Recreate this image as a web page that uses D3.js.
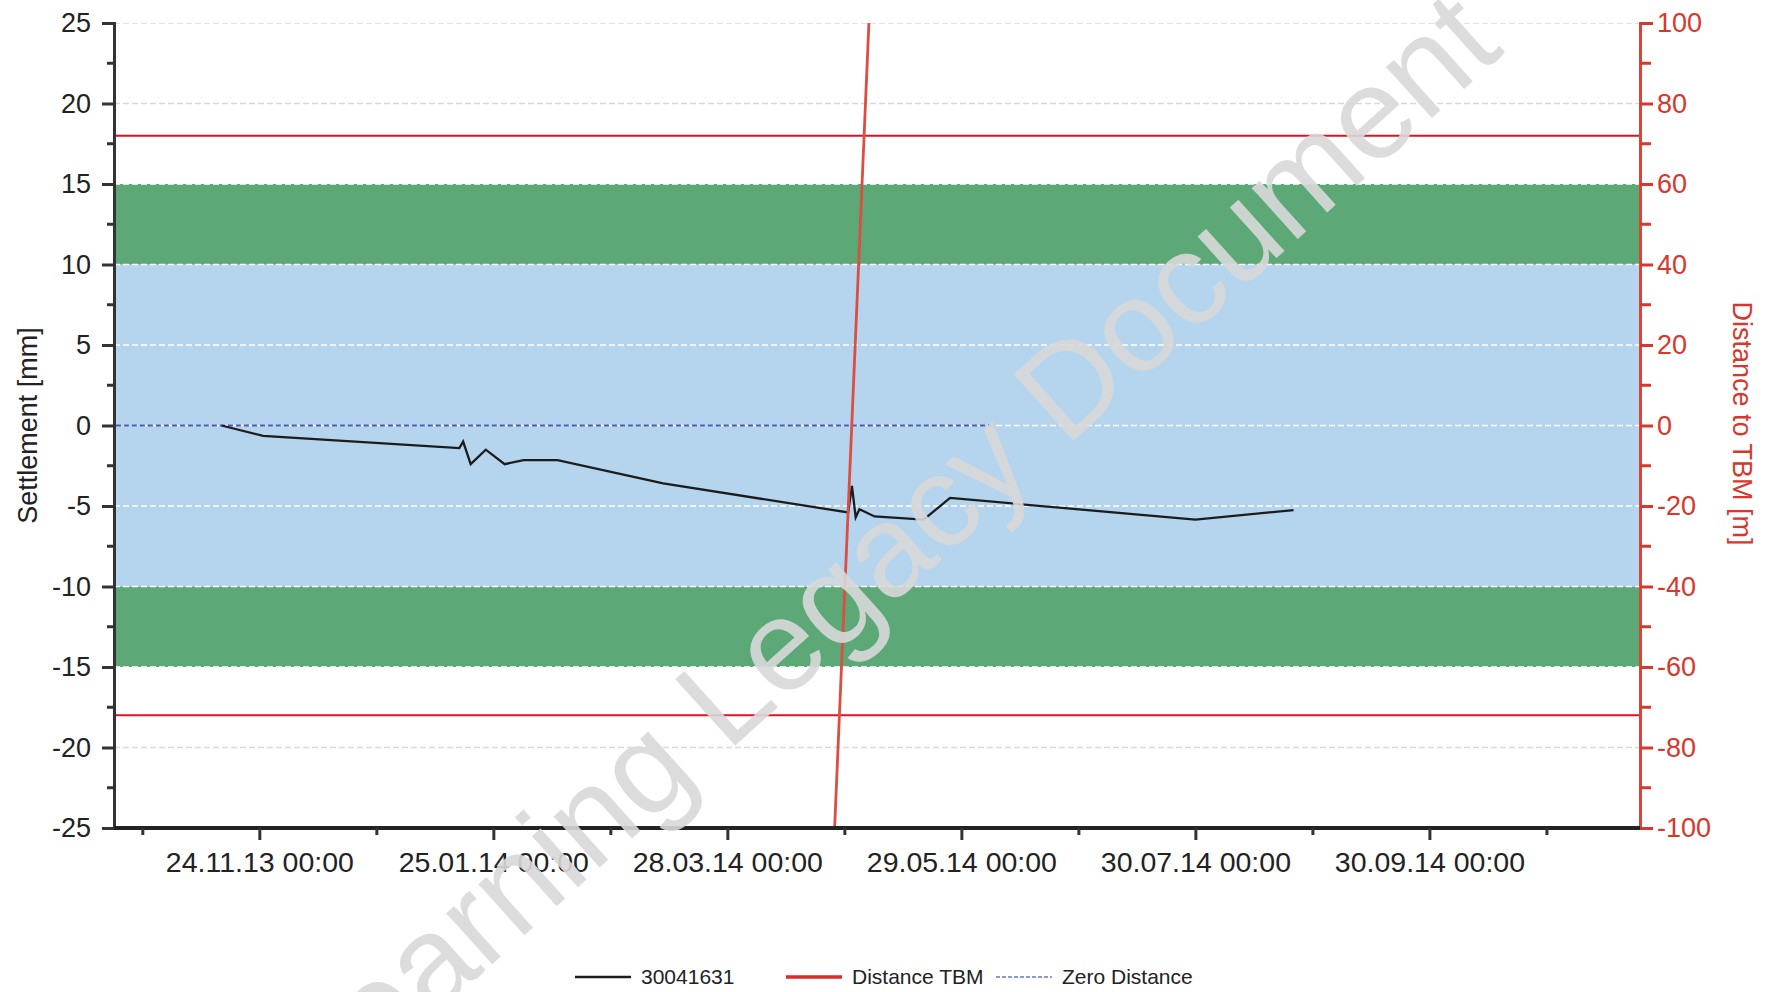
<!DOCTYPE html>
<html>
<head>
<meta charset="utf-8">
<script src="https://cdn.jsdelivr.net/npm/d3@7"></script>
<style>
  body { margin: 0; background: #fff; }
  svg { display: block; font-family: "Liberation Sans", Arial, sans-serif; }
</style>
</head>
<body>
<div id="chart"></div>
<script>
// settlement point 30041631 (mm)
var seriesName = '30041631';
var measureDates = ['2013-11-14', '2013-11-25', '2014-01-16', '2014-01-17', '2014-01-19', '2014-01-23',
  '2014-01-28', '2014-02-02', '2014-02-11', '2014-03-11', '2014-04-29', '2014-04-30', '2014-05-01',
  '2014-05-02', '2014-05-06', '2014-05-19', '2014-05-26', '2014-07-30', '2014-08-25'];
var settlement = [0, -0.65, -1.4, -1.0, -2.4, -1.5, -2.4, -2.15, -2.15, -3.6, -5.4, -3.75, -5.7,
  -5.2, -5.65, -5.85, -4.5, -5.85, -5.25];

// distance to TBM (m), right axis
var tbmDates = ['2014-04-25T10:00', '2014-05-04T12:00'];
var tbmDistance = [-100, 100];

// zero distance reference
var zeroDates = ['2013-10-17', '2014-06-07'];
var zeroValues = [0, 0];

// bands and limit lines (mm)
var blueBand = [-10, 10];
var greenBands = [[10, 15], [-15, -10]];
var limitLines = [18, -18];

// axes
var xDomain = ['2013-10-16T12:00', '2014-11-24T19:00'];
var xTickDates = ['2013-10-24', '2013-11-24', '2013-12-25', '2014-01-25', '2014-02-25', '2014-03-28',
  '2014-04-28', '2014-05-29', '2014-06-29', '2014-07-30', '2014-08-30', '2014-09-30', '2014-10-31'];
var xTickLabels = ['', '24.11.13 00:00', '', '25.01.14 00:00', '', '28.03.14 00:00',
  '', '29.05.14 00:00', '', '30.07.14 00:00', '', '30.09.14 00:00', ''];
var leftTicks = [-25, -20, -15, -10, -5, 0, 5, 10, 15, 20, 25];
var leftMinor = [-22.5, -17.5, -12.5, -7.5, -2.5, 2.5, 7.5, 12.5, 17.5, 22.5];
var rightTicks = [-100, -80, -60, -40, -20, 0, 20, 40, 60, 80, 100];
var rightMinor = [-90, -70, -50, -30, -10, 10, 30, 50, 70, 90];

var parse = function (s) {
  return s.length > 10 ? d3.timeParse('%Y-%m-%dT%H:%M')(s) : d3.timeParse('%Y-%m-%d')(s);
};

var W = 1769, H = 992;
var plot = { left: 114, right: 1640, top: 23, bottom: 828 };

var svg = d3.select('#chart').append('svg')
  .attr('width', W)
  .attr('height', H);

var x = d3.scaleTime()
  .domain(xDomain.map(parse))
  .range([plot.left, plot.right]);
var y = d3.scaleLinear()
  .domain([-25, 25])
  .range([plot.bottom, plot.top]);
var y2 = d3.scaleLinear()
  .domain([-100, 100])
  .range([plot.bottom, plot.top]);

svg.append('clipPath').attr('id', 'clip')
  .append('rect')
  .attr('x', plot.left).attr('y', plot.top)
  .attr('width', plot.right - plot.left).attr('height', plot.bottom - plot.top);

var g = svg.append('g').attr('clip-path', 'url(#clip)');

// bands
g.append('rect')
  .attr('x', plot.left)
  .attr('width', plot.right - plot.left)
  .attr('y', y(blueBand[1]))
  .attr('height', y(blueBand[0]) - y(blueBand[1]))
  .attr('fill', '#b5d4ee');

g.selectAll('.green')
  .data(greenBands)
  .enter().append('rect')
  .attr('x', plot.left)
  .attr('width', plot.right - plot.left)
  .attr('y', d => y(d[1]))
  .attr('height', d => y(d[0]) - y(d[1]))
  .attr('fill', '#5ca977');

// dashed grid
g.selectAll('.grid')
  .data(leftTicks)
  .enter().append('line')
  .attr('x1', plot.left).attr('x2', plot.right)
  .attr('y1', d => y(d)).attr('y2', d => y(d))
  .attr('stroke', d => Math.abs(d) <= 15 ? '#ffffff' : '#d9d9d9')
  .attr('stroke-width', 1.5)
  .attr('stroke-dasharray', '6,3');

// limit lines
g.selectAll('.limit')
  .data(limitLines)
  .enter().append('line')
  .attr('x1', plot.left).attr('x2', plot.right)
  .attr('y1', d => y(d)).attr('y2', d => y(d))
  .attr('stroke', '#e4101f')
  .attr('stroke-width', 2);

// zero distance
var zeroData = zeroDates.map((d, i) => ({ date: parse(d), value: zeroValues[i] }));
g.append('path')
  .datum(zeroData)
  .attr('fill', 'none')
  .attr('stroke', '#4c5cae')
  .attr('stroke-width', 1.8)
  .attr('stroke-dasharray', '5,3')
  .attr('d', d3.line().x(d => x(d.date)).y(d => y(d.value)));

// settlement line
var setData = measureDates.map((d, i) => ({ date: parse(d), value: settlement[i] }));
g.append('path')
  .datum(setData)
  .attr('fill', 'none')
  .attr('stroke', '#1c1c1c')
  .attr('stroke-width', 2.3)
  .attr('d', d3.line().x(d => x(d.date)).y(d => y(d.value)));

// distance TBM
var tbmData = tbmDates.map((d, i) => ({ date: parse(d), value: tbmDistance[i] }));
g.append('path')
  .datum(tbmData)
  .attr('fill', 'none')
  .attr('stroke', '#db4f43')
  .attr('stroke-width', 2.8)
  .attr('d', d3.line().x(d => x(d.date)).y(d => y2(d.value)));

// left axis
var leftAxis = svg.append('g')
  .attr('transform', `translate(${plot.left}, 0)`)
  .call(d3.axisLeft(y).tickValues(leftTicks).tickSize(12).tickPadding(11).tickFormat(d => d));
leftAxis.selectAll('.tick line').attr('stroke', '#333').attr('stroke-width', 3);
leftAxis.select('.domain').attr('stroke', '#333').attr('stroke-width', 3);
leftAxis.selectAll('text').attr('font-size', 27).attr('fill', '#222')
  .attr('font-family', '"Liberation Sans", Arial, sans-serif');
svg.append('g').attr('transform', `translate(${plot.left}, 0)`)
  .selectAll('line').data(leftMinor).enter().append('line')
  .attr('x1', -7).attr('x2', 0)
  .attr('y1', d => y(d)).attr('y2', d => y(d))
  .attr('stroke', '#333').attr('stroke-width', 3);

// right axis
var rightAxis = svg.append('g')
  .attr('transform', `translate(${plot.right}, 0)`)
  .call(d3.axisRight(y2).tickValues(rightTicks).tickSize(13).tickPadding(4).tickFormat(d => d));
rightAxis.selectAll('.tick line').attr('stroke', '#d8372c').attr('stroke-width', 3);
rightAxis.select('.domain').attr('stroke', '#d8463a').attr('stroke-width', 3);
rightAxis.selectAll('text').attr('font-size', 27).attr('fill', '#d8372c')
  .attr('font-family', '"Liberation Sans", Arial, sans-serif');
svg.append('g').attr('transform', `translate(${plot.right}, 0)`)
  .selectAll('line').data(rightMinor).enter().append('line')
  .attr('x1', 0).attr('x2', 11)
  .attr('y1', d => y2(d)).attr('y2', d => y2(d))
  .attr('stroke', '#d8372c').attr('stroke-width', 3);

// bottom axis
var bottomAxis = svg.append('g')
  .attr('transform', `translate(0, ${plot.bottom})`)
  .call(d3.axisBottom(x).tickValues(xTickDates.map(parse)).tickSizeOuter(0).tickSizeInner(11)
    .tickPadding(13).tickFormat((d, i) => xTickLabels[i]));
bottomAxis.select('.domain').attr('stroke', '#222').attr('stroke-width', 4)
  .attr('d', `M${plot.left},0H${plot.right}`);
bottomAxis.selectAll('.tick line')
  .attr('stroke', '#333').attr('stroke-width', 3)
  .attr('y2', (d, i) => xTickLabels[i] ? 12 : 7);
bottomAxis.selectAll('text').attr('font-size', 28.5).attr('fill', '#222')
  .attr('font-family', '"Liberation Sans", Arial, sans-serif');

// axis titles
svg.append('text')
  .attr('transform', `translate(37, ${(plot.top + plot.bottom) / 2}) rotate(-90)`)
  .attr('text-anchor', 'middle')
  .attr('font-size', 27)
  .attr('fill', '#222')
  .text('Settlement [mm]');

svg.append('text')
  .attr('transform', `translate(1733, ${(plot.top + plot.bottom) / 2 - 2}) rotate(90)`)
  .attr('text-anchor', 'middle')
  .attr('font-size', 27)
  .attr('fill', '#d8372c')
  .text('Distance to TBM [m]');

// legend
var legendItems = [
  { name: seriesName, color: '#1c1c1c', width: 2.3, dash: null, x: 575 },
  { name: 'Distance TBM', color: '#db2b2b', width: 3.5, dash: null, x: 786 },
  { name: 'Zero Distance', color: '#6a78c0', width: 1.5, dash: '4,2', x: 996 }
];
var legend = svg.append('g').attr('transform', 'translate(0, 977)');
var li = legend.selectAll('.li').data(legendItems).enter().append('g')
  .attr('transform', d => `translate(${d.x}, 0)`);
li.append('line')
  .attr('x1', 0).attr('x2', 56)
  .attr('stroke', d => d.color)
  .attr('stroke-width', d => d.width)
  .attr('stroke-dasharray', d => d.dash);
li.append('text')
  .attr('x', 66).attr('y', 7)
  .attr('font-size', 21)
  .attr('fill', '#222')
  .text(d => d.name);

// watermark
svg.append('text')
  .attr('transform', 'translate(885, 550) rotate(-42)')
  .attr('text-anchor', 'middle')
  .attr('dominant-baseline', 'central')
  .attr('font-size', 130)
  .attr('fill', '#d9d9d9')
  .attr('opacity', 0.9)
  .text('Learning Legacy Document');
</script>
</body>
</html>
